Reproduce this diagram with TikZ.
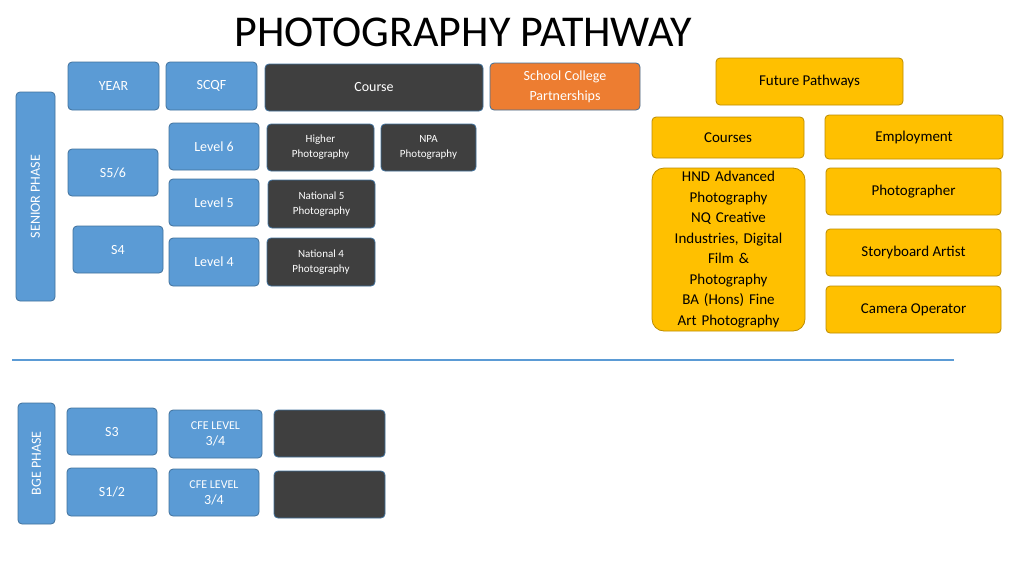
\documentclass[tikz,border=0pt]{standalone}
\usepackage{fontspec}
\setmainfont{Carlito}
\definecolor{bfill}{HTML}{5B9BD5}
\definecolor{bdraw}{HTML}{41719C}
\definecolor{dfill}{HTML}{3F3F3F}
\definecolor{ofill}{HTML}{ED7D31}
\definecolor{yfill}{HTML}{FFC000}
\definecolor{ydraw}{HTML}{BC8C00}
\begin{document}
\begin{tikzpicture}[x=1pt,y=-1pt,
 bx/.style={draw=bdraw,fill=bfill,rounded corners=4pt,line width=0.8pt,text=white,align=center,font=\fontsize{14}{16}\selectfont},
 dk/.style={draw=bdraw,fill=dfill,rounded corners=4pt,line width=0.8pt,text=white,align=center,font=\fontsize{11}{15}\selectfont},
 yb/.style={draw=ydraw,fill=yfill,rounded corners=4pt,line width=0.8pt,text=black,align=center,font=\fontsize{15}{20.5}\selectfont},
 ob/.style={draw=bdraw,fill=ofill,rounded corners=4pt,line width=0.8pt,text=white,align=center,font=\fontsize{14}{20}\selectfont}]
\useasboundingbox (0,0) rectangle (1024,576);
\newcommand\bb[6]{\node[#1,minimum width=#4-#2,minimum height=#5-#3,inner sep=0pt] (#6) at ({(#2+#4)/2},{(#3+#5)/2})}
\node[font=\fontsize{44}{48}\selectfont] (title) at (463,32) {PHOTOGRAPHY PATHWAY};
\bb{bx}{68}{62}{159}{110}{year} {YEAR};
\bb{bx}{166}{62}{257}{110}{scqf} {SCQF};
\bb{dk}{265}{64}{483}{111}{course} {\fontsize{14}{16}\selectfont Course};
\bb{ob}{490}{63}{640}{110}{scp} {School College\\Partnerships};
\bb{yb}{716}{58}{903}{105}{fp} {Future Pathways};
\bb{bx}{16}{92}{55}{301}{sp} {};
\node[rotate=90,text=white,font=\fontsize{14}{16}\selectfont] (spt) at (sp) {SENIOR PHASE};
\bb{bx}{169}{123}{259}{170}{l6} {Level 6};
\bb{dk}{267}{124}{374}{171}{hp} {Higher\\Photography};
\bb{dk}{381}{124}{476}{171}{npa} {NPA\\Photography};
\bb{bx}{68}{149}{158}{196}{s56} {S5/6};
\bb{bx}{169}{179}{259}{226}{l5} {Level 5};
\bb{dk}{268}{180}{375}{228}{n5} {National 5\\Photography};
\bb{bx}{73}{226}{163}{273}{s4} {S4};
\node[anchor=north] at (s4.north) {}; 
\bb{bx}{169}{238}{259}{286}{l4} {Level 4};
\bb{dk}{267}{238}{375}{286}{n4} {National 4\\Photography};
\bb{yb}{652}{117}{804}{158}{crs} {Courses};
\bb{yb}{825}{115}{1003}{159}{emp} {Employment};
\node[yb,rounded corners=12pt,minimum width=153,minimum height=163,inner sep=0pt,text width=150] (hnd) at (728.5,249.5) {HND Advanced\\Photography\\NQ Creative\\Industries, Digital\\Film \&\\Photography\\BA (Hons) Fine\\Art Photography};
\bb{yb}{826}{168}{1001}{215}{ph} {Photographer};
\bb{yb}{826}{229}{1001}{276}{sa} {Storyboard Artist};
\bb{yb}{826}{286}{1001}{333}{co} {Camera Operator};
\coordinate (la) at (12,360); \coordinate (lb) at (954,360);
\draw[bfill,line width=1.5pt] (la) -- (lb);
\bb{bx}{18}{403}{55}{524}{bge} {};
\node[rotate=90,text=white,font=\fontsize{14}{16}\selectfont] (bget) at (bge) {BGE PHASE};
\bb{bx}{67}{408}{157}{455}{s3} {S3};
\bb{bx}{169}{410}{262}{458}{c1} {\fontsize{12}{18}\selectfont CFE LEVEL\\3/4};
\bb{dk}{274}{410}{385}{457}{d1} {};
\bb{bx}{67}{468}{157}{516}{s12} {S1/2};
\bb{bx}{169}{469}{259}{516}{c2} {\fontsize{12}{18}\selectfont CFE LEVEL\\3/4};
\bb{dk}{274}{471}{385}{518}{d2} {};
\end{tikzpicture}
\end{document}
